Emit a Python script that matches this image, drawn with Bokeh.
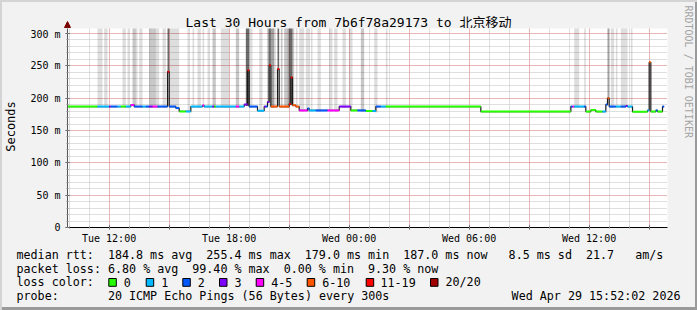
import math
import re
from bokeh.plotting import figure
from bokeh.layouts import column, row
from bokeh.models import Label, FixedTicker, Range1d, Arrow, NormalHead
from bokeh.embed import file_html
from bokeh.resources import INLINE

# ---------------- data ----------------
T0_HOURS = 9.92          # graph start, hours after Tue 00:00
STEP_HOURS = 300 / 3600  # RRD step (300 s)
N_STEPS = 360            # 30 hours

# median rtt, run-length encoded: run ends (step index), median (ms), loss class
run_end = [18, 25, 26, 30, 32, 35, 38, 40, 45, 47, 49, 51, 54, 60, 61, 65, 67, 71, 74, 81,
           82, 87, 88, 89, 101, 103, 106, 108, 109, 114, 118, 119, 120, 121, 122, 126, 127, 133, 134, 135,
           137, 139, 144, 145, 149, 156, 163, 170, 174, 179, 183, 185, 188, 191, 248, 302, 303, 304, 310, 311,
           314, 317, 321, 323, 324, 325, 329, 332, 335, 336, 339, 348, 349, 350, 353, 354, 357, 358]
run_median = [187, 187, 187, 187, 187, 187, 187, 189.5, 187, 187, 187, 187, 187, 187, 241, 187, 184.6, 179.4, 179.4, 187,
              188.5, 187, 187, 187, 187, 187, 187, 190, 243, 187, 180.5, 187, 187, 194, 251, 187, 245, 187, 191, 232,
              189, 187, 181, 184, 181, 181, 181, 187, 181, 181, 180, 180, 187, 187, 187, 179.2, 187, 187, 187, 187,
              179.2, 181.5, 179.2, 179.2, 190, 200, 187, 187, 187, 188, 187, 179.0, 181, 255.4, 179.2, 181, 179.2, 187]
run_loss = [0, 1, 3, 2, 1, 0, 1, 4, 2, 1, 2, 3, 4, 2, 6, 2, 2, 0, 1, 1,
            4, 1, 3, 0, 1, 4, 1, 3, 6, 2, 1, 3, 2, 3, 6, 5, 6, 5, 6, 6,
            5, 5, 4, 2, 1, 2, 4, 3, 0, 2, 0, 1, 2, 1, 0, 0, 2, 4, 1, 2,
            0, 0, 0, 1, 2, 5, 2, 1, 2, 3, 1, 0, 1, 5, 0, 2, 0, 2]

loss_labels = ["0", "1", "2", "3", "4-5", "6-10", "11-19", "20/20"]
loss_colors = ["#26ff00", "#00b8ff", "#0059ff", "#7e00ff", "#ff00ff", "#ff5500", "#ff0000", "#a00000"]

# smoke (spread of the individual pings): start step, end step, highest rtt (ms), density class
smoke_start = [18, 22, 33, 36, 39, 41, 43, 49, 51, 53, 57, 58, 60, 61, 65, 72, 75, 78, 81, 84,
               87, 92, 101, 107, 109, 115, 120, 121, 122, 124, 126, 128, 130, 132, 133, 135, 137, 139, 143, 146,
               150, 157, 160, 165, 169, 176, 184, 191, 304, 310, 324, 326, 329, 332, 335, 338, 349]
smoke_end = [21, 24, 35, 37, 41, 42, 45, 51, 53, 55, 58, 59, 61, 65, 67, 73, 76, 80, 82, 85,
             89, 97, 103, 109, 111, 117, 121, 122, 124, 125, 127, 129, 132, 133, 135, 136, 138, 142, 145, 147,
             152, 159, 162, 167, 171, 178, 186, 192, 307, 311, 325, 328, 330, 335, 336, 339, 350]
smoke_high = [330] * 56 + [256]
smoke_class = [0, 0, 0, 0, 1, 0, 0, 1, 1, 0, 0, 0, 3, 0, 0, 0, 0, 0, 0, 0,
               1, 0, 1, 3, 0, 0, 2, 3, 2, 0, 3, 1, 1, 2, 3, 1, 0, 0, 0, 0,
               0, 0, 0, 0, 0, 1, 0, 0, 0, 0, 2, 0, 0, 0, 0, 0, 3]
smoke_alpha = [0.13, 0.22, 0.36, 0.58]

x_tick_hours = [12, 15, 18, 21, 24, 27, 30, 33, 36, 39]
x_tick_labels = ["Tue 12:00", "", "Tue 18:00", "", "Wed 00:00", "", "Wed 06:00", "", "Wed 12:00", ""]
y_tick_ms = [0, 50, 100, 150, 200, 250, 300]
y_tick_labels = ["0", "50 m", "100 m", "150 m", "200 m", "250 m", "300 m"]

title_text = "Last 30 Hours from 7b6f78a29173 to 北京移动"
legend_line1 = "median rtt:  184.8 ms avg  255.4 ms max  179.0 ms min  187.0 ms now   8.5 ms sd  21.7   am/s"
legend_line2 = "packet loss: 6.80 % avg  99.40 % max  0.00 % min  9.30 % now"
legend_line3 = "loss color:"
legend_line4 = "probe:       20 ICMP Echo Pings (56 Bytes) every 300s"
stamp_text = "Wed Apr 29 15:52:02 2026"

# ---------------- helpers ----------------
def hours(step):
    return T0_HOURS + step * STEP_HOURS

run_start = [0] + run_end[:-1]

def median_at(step):
    for s, e, m in zip(run_start, run_end, run_median):
        if s <= step < e:
            return m
    return run_median[-1]

mono = "DejaVu Sans Mono"
W, H = 697, 310
LEFT_W, RIGHT_W = 20, 20          # side strips
TOP_H, LEG_H = 28, 64             # title strip, legend strip
MID_W = W - LEFT_W - RIGHT_W
UPPER_H = H - LEG_H
MAIN_H = UPPER_H - TOP_H
FL, FR, FT, FB = 67, 667, 28, 228  # plot frame in window pixels
Y_TOP = (FB - FT) / 0.65


def strip(w, h):
    f = figure(width=w, height=h, output_backend="svg", toolbar_location=None,
               x_range=Range1d(0, w), y_range=Range1d(h, 0),
               x_axis_location=None, y_axis_location=None,
               min_border_left=0, min_border_right=0, min_border_top=0, min_border_bottom=0)
    f.grid.visible = False
    f.outline_line_color = None
    f.background_fill_color = None
    f.border_fill_color = None
    f.frame_align = False
    return f


def label(fig, text, x, y, size="11.7px", align="left", angle=0.0, color="#000000", font=mono):
    fig.add_layout(Label(x=x, y=y, text=text, text_font=font, text_font_size=size,
                         text_align=align, text_baseline="middle", angle=angle,
                         text_color=color))

# ---------------- main chart ----------------
p = figure(width=MID_W, height=MAIN_H, output_backend="svg", toolbar_location=None,
           x_range=Range1d(hours(0), hours(N_STEPS)), y_range=Range1d(0, Y_TOP),
           min_border_left=FL - LEFT_W, min_border_right=LEFT_W + MID_W - FR,
           min_border_top=FT - TOP_H, min_border_bottom=UPPER_H - FB)
p.frame_align = False
p.background_fill_color = "white"
p.border_fill_color = None
p.outline_line_color = None

p.xaxis.ticker = FixedTicker(ticks=x_tick_hours, minor_ticks=list(range(10, 40)))
p.xaxis.major_label_overrides = {t: l for t, l in zip(x_tick_hours, x_tick_labels)}
p.yaxis.ticker = FixedTicker(ticks=y_tick_ms, minor_ticks=list(range(0, 310, 10)))
p.yaxis.major_label_overrides = {t: l for t, l in zip(y_tick_ms, y_tick_labels)}
for ax in (p.xaxis[0], p.yaxis[0]):
    ax.major_label_text_font = mono
    ax.major_label_text_font_size = "10px"
    ax.major_label_text_color = "#000000"
    ax.major_tick_in = 2
    ax.major_tick_out = 2
    ax.minor_tick_in = 1
    ax.minor_tick_out = 1
    ax.major_tick_line_color = "#444444"
    ax.minor_tick_line_color = "#888888"
p.xaxis.axis_line_color = "#000000"
p.yaxis.axis_line_color = "#555555"
p.xaxis.major_label_standoff = 3
p.yaxis.major_label_standoff = 5

for g in (p.xgrid[0], p.ygrid[0]):
    g.grid_line_color = "#ee8c8c"
    g.grid_line_dash = "1 1"
    g.grid_line_width = 1
    g.minor_grid_line_color = "#bfbfbf"
    g.minor_grid_line_dash = "1 1"
    g.minor_grid_line_width = 1

# smoke
p.quad(left=[hours(s) for s in smoke_start], right=[hours(e) for e in smoke_end],
       bottom=[median_at(s) - 2 for s in smoke_start], top=smoke_high,
       fill_color="black", fill_alpha=[smoke_alpha[c] for c in smoke_class], line_color=None)

# black median outline (step line)
xs, ys = [], []
for s, e, m in zip(run_start, run_end, run_median):
    xs += [hours(s), hours(e)]
    ys += [m, m]
p.line(xs, ys, line_color="#1a1a1a", line_width=1.2)

# loss-coloured median
p.segment(x0=[hours(s) for s in run_start], y0=run_median,
          x1=[hours(e) for e in run_end], y1=run_median,
          line_color=[loss_colors[c] for c in run_loss], line_width=2)

# ---------------- title strip ----------------
top = strip(MID_W, TOP_H)
label(top, title_text, 348 - LEFT_W, 21.5, size="13px", align="center",
      font=mono + ", Noto Sans CJK SC")
top.add_layout(Arrow(end=NormalHead(size=6, fill_color="#7a0000", line_color="#7a0000"),
                     x_start=FL - LEFT_W, y_start=TOP_H, x_end=FL - LEFT_W, y_end=TOP_H - 7,
                     line_color="#555555", line_width=1))

# ---------------- side strips ----------------
left = strip(LEFT_W, UPPER_H)
label(left, "Seconds", 10, 126, size="12px", align="center", angle=math.pi / 2)
right = strip(RIGHT_W, UPPER_H)
label(right, "RRDTOOL / TOBI OETIKER", 688 - (W - RIGHT_W), 5, size="10px", align="left",
      angle=-math.pi / 2, color="#a4a4a4")

# ---------------- legend strip (full width) ----------------
leg = strip(W, LEG_H)
PITCH = 7.03   # monospace character advance (px)
X0 = 16
for line, y in [(legend_line1, 254), (legend_line2, 268), (legend_line3, 281.8), (legend_line4, 295.8)]:
    for m in re.finditer(r"\S+(?: \S+)*", line):
        label(leg, m.group(0), X0 + m.start() * PITCH, y - UPPER_H)
label(leg, stamp_text, 680, 295.8 - UPPER_H, align="right")

box_x = [108.3, 145.7, 182.3, 219, 255.7, 306.7, 365.7, 430]
text_x = [123.3, 160.7, 197.3, 234, 270.7, 321.7, 380, 445]
leg.quad(left=box_x, right=[b + 7.5 for b in box_x],
         top=[278 - UPPER_H] * len(box_x), bottom=[285.8 - UPPER_H] * len(box_x),
         fill_color=loss_colors, line_color="black", line_width=1)
for lbl, tx in zip(loss_labels, text_x):
    label(leg, lbl, tx, 281.8 - UPPER_H)

upper = row(left, column(top, p, spacing=0), right, spacing=0)
layout = column(upper, leg, spacing=0)
layout.styles = {"background-color": "#f2f2f2",
                 "box-shadow": "inset 2px 2px 0 #d4d4d4, inset -2px -3px 0 #9a9a9a"}

open("out.html", "w").write(file_html(layout, INLINE))
